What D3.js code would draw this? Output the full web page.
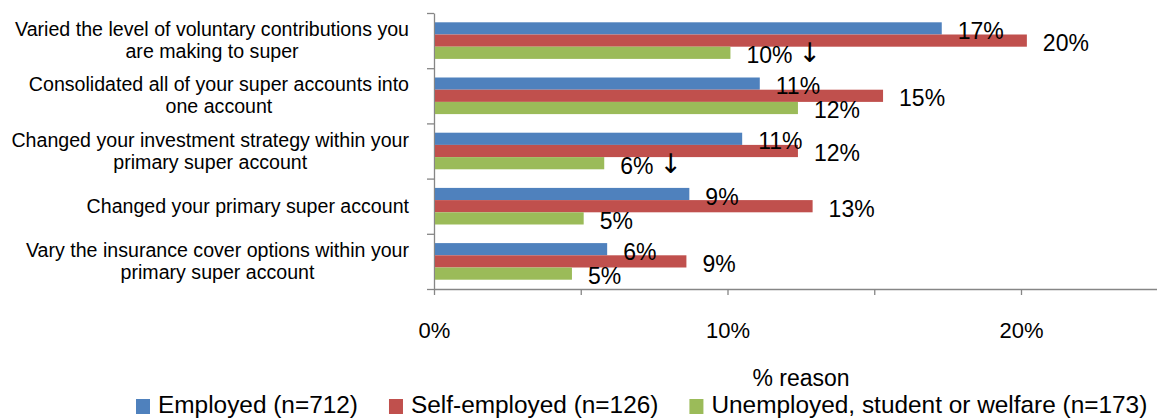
<!DOCTYPE html>
<html>
<head>
<meta charset="utf-8">
<script src="https://cdn.jsdelivr.net/npm/d3@7"></script>
<style>
  html, body { margin: 0; padding: 0; background: #fff; }
  svg { display: block; font-family: "Liberation Sans", Arial, sans-serif; }
</style>
</head>
<body>
<svg id="chart" width="1157" height="419"></svg>
<script>
// ---- data ----
const categories = [
  "Varied the level of voluntary contributions you\nare making to super",
  "Consolidated all of your super accounts into\none account",
  "Changed your investment strategy within your\nprimary super account",
  "Changed your primary super account",
  "Vary the insurance cover options within your\nprimary super account"
];
const seriesNames = ["Employed (n=712)", "Self-employed (n=126)", "Unemployed, student or welfare (n=173)"];
const employed     = [17.3, 11.1, 10.5, 8.7, 5.9];
const selfEmployed = [20.2, 15.3, 12.4, 12.9, 8.6];
const unemployed   = [10.1, 12.4, 5.8, 5.1, 4.7];
const unemployedArrow = [true, false, true, false, false];
const xTicks = [0, 5, 10, 15, 20];
const xTickLabels = ["0%", "", "10%", "", "20%"];
const axisTitle = "% reason";

const colors = ["#4F81BD", "#C0504D", "#9BBB59"];
const seriesValues = [employed, selfEmployed, unemployed];
const seriesArrows = [[], [], unemployedArrow];

// ---- layout ----
const svg = d3.select("#chart");
const x0 = 434, pxPerPct = 29.35;
const x = d3.scaleLinear().domain([0, 25]).range([x0, x0 + 25 * pxPerPct]);
const yTop = 13, yBottom = 289;
const y = d3.scaleBand().domain(d3.range(categories.length)).range([yTop, yBottom])
  .paddingInner(0.337).paddingOuter(0.337 / 2);
const ys = d3.scaleBand().domain(d3.range(seriesNames.length)).range([0, y.bandwidth()]);

// ---- axes ----
const axisColor = "#868686";
const xAxis = svg.append("g").attr("transform", `translate(0,${yBottom})`)
  .call(d3.axisBottom(x).tickValues(xTicks).tickSize(6).tickSizeOuter(0)
    .tickFormat((d, i) => xTickLabels[i]));
xAxis.select(".domain").attr("stroke", axisColor).attr("stroke-width", 1.3);
xAxis.selectAll(".tick line").attr("stroke", axisColor).attr("stroke-width", 1.3);
xAxis.selectAll(".tick text").attr("y", 49).attr("dy", 0)
  .attr("font-size", 22).attr("font-family", "Liberation Sans, Arial, sans-serif").attr("fill", "#000");

const yIdx = d3.scaleLinear().domain([0, categories.length]).range([yTop, yBottom]);
const yAxis = svg.append("g").attr("transform", `translate(${x0},0)`)
  .call(d3.axisLeft(yIdx).ticks(categories.length).tickSize(7).tickSizeOuter(0).tickFormat(""));
yAxis.select(".domain").attr("stroke", axisColor).attr("stroke-width", 1.3);
yAxis.selectAll(".tick line").attr("stroke", axisColor).attr("stroke-width", 1.3);

// ---- bars ----
const groups = svg.append("g").selectAll("g").data(categories).join("g")
  .attr("transform", (d, i) => `translate(0,${y(i)})`);

seriesValues.forEach((vals, s) => {
  groups.append("rect")
    .attr("x", x(0) + 1)
    .attr("y", (d, i) => ys(s))
    .attr("width", (d, i) => x(vals[i]) - x(0) - 1)
    .attr("height", ys.bandwidth())
    .attr("fill", colors[s]);
});

// ---- data labels ----
seriesValues.forEach((vals, s) => {
  const t = groups.append("text")
    .attr("x", (d, i) => x(vals[i]) + 16)
    .attr("y", (d, i) => ys(s) + ys.bandwidth() / 2 + 10.5)
    .attr("font-size", 23)
    .attr("fill", "#000");
  t.append("tspan").text((d, i) => Math.round(vals[i]) + "%");
  t.filter((d, i) => seriesArrows[s][i])
    .append("tspan").attr("dx", 6).attr("font-family", "DejaVu Sans, sans-serif")
    .attr("font-size", 27).attr("dy", -1).text("\u2193");
});

// ---- category labels ----
const labelRight = 409, lineH = 22;
categories.forEach((c, i) => {
  const lines = c.split("\n");
  const t = svg.append("text").attr("font-size", 19.6).attr("fill", "#000").attr("text-anchor", "middle");
  const cy = y(i) + y.bandwidth() / 2;
  const firstBase = cy - (lines.length - 1) * lineH / 2 + 6.5;
  lines.forEach((ln, k) => {
    t.append("tspan").attr("y", firstBase + k * lineH).text(ln);
  });
  let maxW = 0;
  t.selectAll("tspan").each(function () { maxW = Math.max(maxW, this.getComputedTextLength()); });
  t.selectAll("tspan").attr("x", labelRight - maxW / 2);
});

// ---- axis title ----
svg.append("text").attr("x", 801).attr("y", 386).attr("text-anchor", "middle")
  .attr("font-size", 23).attr("fill", "#000").text(axisTitle);

// ---- legend ----
const legend = svg.append("g");
let lx = 136;
seriesNames.forEach((n, s) => {
  legend.append("rect").attr("x", lx).attr("y", 399).attr("width", 14).attr("height", 15).attr("fill", colors[s]);
  const t = legend.append("text").attr("x", lx + 22).attr("y", 413).attr("font-size", 24.4).attr("fill", "#000").text(n);
  lx += 22 + t.node().getComputedTextLength() + 31;
});
</script>
</body>
</html>
